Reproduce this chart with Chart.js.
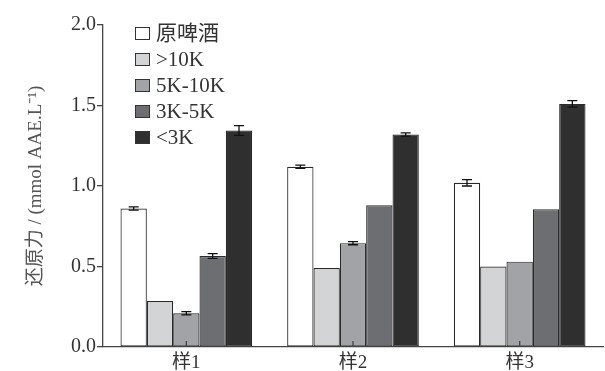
<!DOCTYPE html>
<html>
<head>
<meta charset="utf-8">
<script src="https://cdn.jsdelivr.net/npm/chart.js@4/dist/chart.umd.min.js"></script>
<style>
  html, body { margin: 0; padding: 0; background: #fff; }
  #wrap { width: 605px; height: 371px; }
</style>
</head>
<body>
<div id="wrap"><canvas id="chart" width="605" height="371"></canvas></div>
<script>
// Samples and ultrafiltration fractions
const samples = ["样1", "样2", "样3"];
const fractions = ["原啤酒", ">10K", "5K-10K", "3K-5K", "<3K"];

// Reducing power (mmol AAE/L), one array per fraction
const beerValues = [0.86, 1.12, 1.02];
const over10kValues = [0.285, 0.49, 0.50];
const k5to10Values = [0.21, 0.645, 0.53];
const k3to5Values = [0.565, 0.88, 0.855];
const under3kValues = [1.345, 1.32, 1.51];

// Standard deviations for the error bars
const beerErr = [0.01, 0.01, 0.02];
const over10kErr = [0, 0, 0];
const k5to10Err = [0.01, 0.01, 0];
const k3to5Err = [0.015, 0, 0];
const under3kErr = [0.03, 0.01, 0.02];

const yTicks = [0, 0.5, 1.0, 1.5, 2.0];

const fills = ["#ffffff", "#d2d4d6", "#a1a3a6", "#6c6e71", "#2f2f30"];
const fontFamily = "'Liberation Serif', 'Noto Sans CJK SC', serif";

const seriesValues = [beerValues, over10kValues, k5to10Values, k3to5Values, under3kValues];
const seriesErr = [beerErr, over10kErr, k5to10Err, k3to5Err, under3kErr];

const datasets = fractions.map((name, i) => ({
    label: name,
    data: seriesValues[i],
    errors: seriesErr[i],
    backgroundColor: fills[i],
    borderColor: "#2a2a2a",
    borderWidth: 1.2,
    borderSkipped: false,
    categoryPercentage: 0.79,
    barPercentage: 1.0
}));

// Error bars with small caps
const errorBars = {
    id: "errorBars",
    afterDatasetsDraw(chart) {
        const ctx = chart.ctx;
        const y = chart.scales.y;
        ctx.save();
        ctx.strokeStyle = "#111";
        ctx.lineWidth = 1.3;
        chart.data.datasets.forEach((ds, di) => {
            const meta = chart.getDatasetMeta(di);
            meta.data.forEach((bar, j) => {
                const e = ds.errors[j];
                if (!e) return;
                const v = ds.data[j];
                const top = y.getPixelForValue(v + e);
                const bot = y.getPixelForValue(v - e);
                const cap = 5;
                ctx.beginPath();
                ctx.moveTo(bar.x, top); ctx.lineTo(bar.x, bot);
                ctx.moveTo(bar.x - cap, top); ctx.lineTo(bar.x + cap, top);
                ctx.moveTo(bar.x - cap, bot); ctx.lineTo(bar.x + cap, bot);
                ctx.stroke();
            });
        });
        ctx.restore();
    }
};

// Inward category ticks and the boxed legend
const decorations = {
    id: "decorations",
    afterDraw(chart) {
        const ctx = chart.ctx;
        const area = chart.chartArea;
        const xs = chart.scales.x;
        ctx.save();
        ctx.strokeStyle = "#444";
        ctx.lineWidth = 1.3;
        samples.forEach((s, i) => {
            const px = xs.getPixelForValue(i);
            ctx.beginPath();
            ctx.moveTo(px, area.bottom);
            ctx.lineTo(px, area.bottom - 6);
            ctx.stroke();
        });

        ctx.font = "21px " + fontFamily;
        ctx.textBaseline = "middle";
        ctx.textAlign = "left";
        const lx = area.left + 32;
        const ly = area.top + 8;
        fractions.forEach((name, i) => {
            const cy = ly + i * 26;
            ctx.fillStyle = fills[i];
            ctx.fillRect(lx, cy - 6, 15, 13);
            ctx.strokeStyle = "#333";
            ctx.lineWidth = 1;
            ctx.strokeRect(lx + 0.5, cy - 5.5, 14, 12);
            ctx.fillStyle = "#333";
            ctx.fillText(name, lx + 21, cy + 1);
        });
        ctx.restore();
    }
};

new Chart(document.getElementById("chart"), {
    type: "bar",
    data: { labels: samples, datasets: datasets },
    options: {
        responsive: false,
        animation: false,
        layout: { padding: { top: 25, right: 2, left: 0, bottom: 0 } },
        plugins: { legend: { display: false }, tooltip: { enabled: false } },
        scales: {
            x: {
                grid: { display: false, drawTicks: false },
                border: { display: true, color: "#444", width: 1.3 },
                ticks: { color: "#333", font: { family: fontFamily, size: 19 }, padding: 5 },
                afterFit(scale) { scale.height = 24; }
            },
            y: {
                min: 0,
                max: 2.0,
                afterBuildTicks(scale) { scale.ticks = yTicks.map(v => ({ value: v })); },
                grid: { drawOnChartArea: false, drawTicks: true, tickLength: 6, color: "#444", lineWidth: 1.3 },
                border: { display: true, color: "#444", width: 1.3 },
                ticks: {
                    color: "#333",
                    padding: 1,
                    font: { family: fontFamily, size: 20 },
                    callback: v => v.toFixed(1)
                },
                title: {
                    display: true,
                    text: "还原力 / (mmol AAE.L⁻¹)",
                    color: "#555",
                    font: { family: fontFamily, size: 19 },
                    padding: { top: 25, bottom: 0 }
                },
                afterFit(scale) { scale.width = 103; }
            }
        }
    },
    plugins: [errorBars, decorations]
});
</script>
</body>
</html>
